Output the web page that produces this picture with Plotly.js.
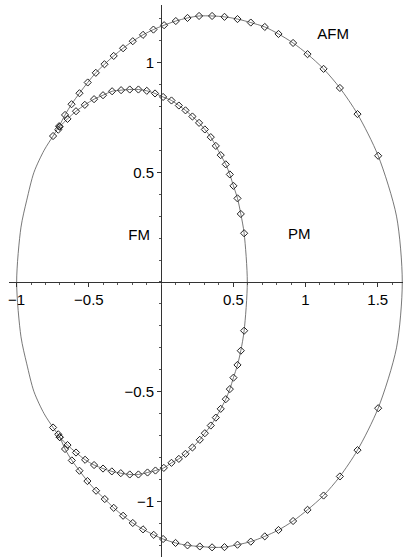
<!DOCTYPE html>
<html>
<head>
<meta charset="utf-8">
<script src="https://cdn.plot.ly/plotly-3.0.1.min.js"></script>
<style>html,body{margin:0;padding:0;background:#fff;}#chart{width:403px;height:558px;}</style>
</head>
<body>
<div id="chart"></div>
<script>
// Outer boundary (AFM) data points, upper half left -> right
const outerUpperX = [-0.748,-0.706,-0.665,-0.620,-0.565,-0.508,-0.452,-0.392,-0.328,-0.263,-0.196,-0.125,-0.053,0.021,0.102,0.183,0.263,0.353,0.439,0.529,0.621,0.718,0.813,0.914,1.014,1.125,1.238,1.360,1.503];
const outerUpperY = [0.665,0.710,0.761,0.810,0.860,0.909,0.953,0.992,1.030,1.065,1.097,1.126,1.150,1.170,1.189,1.203,1.212,1.212,1.208,1.198,1.182,1.162,1.130,1.089,1.038,0.971,0.884,0.765,0.575];
// Outer boundary data points, lower half right -> left
const outerLowerX = [1.503,1.360,1.238,1.125,1.014,0.914,0.813,0.718,0.621,0.529,0.439,0.353,0.268,0.183,0.100,0.014,-0.051,-0.125,-0.196,-0.263,-0.328,-0.390,-0.450,-0.510,-0.565,-0.618,-0.665,-0.702,-0.748];
const outerLowerY = [-0.575,-0.766,-0.886,-0.973,-1.038,-1.089,-1.130,-1.159,-1.183,-1.197,-1.208,-1.209,-1.205,-1.200,-1.189,-1.171,-1.152,-1.127,-1.098,-1.065,-1.029,-0.989,-0.951,-0.907,-0.860,-0.813,-0.761,-0.707,-0.663];
// Curve-only points of the outer line (no data markers)
const outerRightArcX = [1.630,1.670,1.630];
const outerRightArcY = [0.300,0.000,-0.300];
const outerLeftArcX = [-0.810,-0.880,-0.930,-0.970,-1.000,-0.970,-0.930,-0.880,-0.810,-0.748];
const outerLeftArcY = [-0.600,-0.500,-0.373,-0.250,0.000,0.250,0.373,0.500,0.600,0.665];

// Inner boundary (FM) data points, upper half left -> right
const innerUpperX = [-0.712,-0.702,-0.648,-0.589,-0.528,-0.464,-0.402,-0.339,-0.277,-0.217,-0.157,-0.099,-0.042,0.014,0.072,0.123,0.169,0.217,0.263,0.303,0.344,0.379,0.413,0.448,0.476,0.501,0.529,0.552,0.575];
const innerUpperY = [0.694,0.707,0.743,0.778,0.807,0.833,0.851,0.869,0.874,0.877,0.877,0.871,0.859,0.843,0.827,0.804,0.782,0.754,0.725,0.695,0.660,0.620,0.578,0.536,0.490,0.438,0.381,0.310,0.222];
// Inner boundary data points, lower half right -> left
const innerLowerX = [0.575,0.552,0.529,0.501,0.476,0.448,0.413,0.379,0.344,0.303,0.268,0.217,0.169,0.123,0.072,0.019,-0.039,-0.094,-0.157,-0.217,-0.279,-0.341,-0.402,-0.464,-0.526,-0.589,-0.648,-0.702,-0.712];
const innerLowerY = [-0.222,-0.313,-0.378,-0.436,-0.488,-0.534,-0.578,-0.618,-0.654,-0.689,-0.719,-0.754,-0.783,-0.806,-0.824,-0.847,-0.859,-0.868,-0.877,-0.877,-0.871,-0.863,-0.850,-0.834,-0.810,-0.777,-0.743,-0.707,-0.694];
const innerCrossX = [0.597];
const innerCrossY = [0.0];

// Region labels
const labelText = ["AFM","FM","PM"];
const labelX = [1.191,-0.152,0.956];
const labelY = [1.124,0.209,0.214];

// Axis ticks
const xTickVals = [-1,-0.5,0.5,1,1.5];
const xTickText = ["\u22121","\u22120.5","0.5","1","1.5"];
const yTickVals = [-1,-0.5,0.5,1];
const yTickText = ["\u22121","\u22120.5","0.5","1"];

const W = 403, H = 558;
const xRange = [-1.053, 1.675];
const yRange = [-1.253, 1.262];
const xDom = [9/W, 1];
const yDom = [1 - 557/H, 1 - 5/H];
function frac(v, r, d){ return d[0] + (v - r[0])/(r[1]-r[0])*(d[1]-d[0]); }
const yAxisPos = frac(0, xRange, xDom);
const xAxisPos = frac(0, yRange, yDom);

const outerLineX = outerUpperX.concat(outerRightArcX, outerLowerX, outerLeftArcX);
const outerLineY = outerUpperY.concat(outerRightArcY, outerLowerY, outerLeftArcY);
const innerLineX = innerUpperX.concat(innerCrossX, innerLowerX);
const innerLineY = innerUpperY.concat(innerCrossY, innerLowerY);

const lineStyle = {color:'#555', width:0.8, shape:'spline', smoothing:0.8};
const markerStyle = {symbol:'diamond-open', size:5.5, color:'#222', line:{width:1, color:'#222'}};

const traces = [
  {x: outerLineX, y: outerLineY, mode:'lines', line: lineStyle, hoverinfo:'skip'},
  {x: innerLineX, y: innerLineY, mode:'lines', line: lineStyle, hoverinfo:'skip'},
  {x: outerUpperX.concat(outerLowerX), y: outerUpperY.concat(outerLowerY), mode:'markers', marker: markerStyle},
  {x: innerUpperX.concat(innerLowerX), y: innerUpperY.concat(innerLowerY), mode:'markers', marker: markerStyle},
  {x: labelX, y: labelY, text: labelText, mode:'text', textposition:'middle center',
   textfont:{family:'Liberation Sans, Arial, sans-serif', size:15, color:'#000'}}
];

const axisCommon = {
  showgrid:false, zeroline:false, showline:true, linecolor:'#333', linewidth:1,
  ticks:'outside', ticklen:4, tickwidth:1, tickcolor:'#333',
  tickfont:{family:'Liberation Sans, Arial, sans-serif', size:15, color:'#000'},
  tickmode:'array', anchor:'free', fixedrange:true,
  minor:{tickmode:'linear', tick0:0, dtick:0.1, ticks:'outside', ticklen:2, tickwidth:1, tickcolor:'#555', showgrid:false}
};

const layout = {
  width:W, height:H, margin:{l:0,r:0,t:0,b:0,pad:0},
  paper_bgcolor:'#fff', plot_bgcolor:'rgba(0,0,0,0)', showlegend:false,
  xaxis: Object.assign({}, axisCommon, {range:xRange, domain:xDom, tickvals:xTickVals, ticktext:xTickText, position:xAxisPos}),
  yaxis: Object.assign({}, axisCommon, {range:yRange, domain:yDom, tickvals:yTickVals, ticktext:yTickText, position:yAxisPos})
};

Plotly.newPlot('chart', traces, layout, {staticPlot:true, displayModeBar:false});
</script>
</body>
</html>
